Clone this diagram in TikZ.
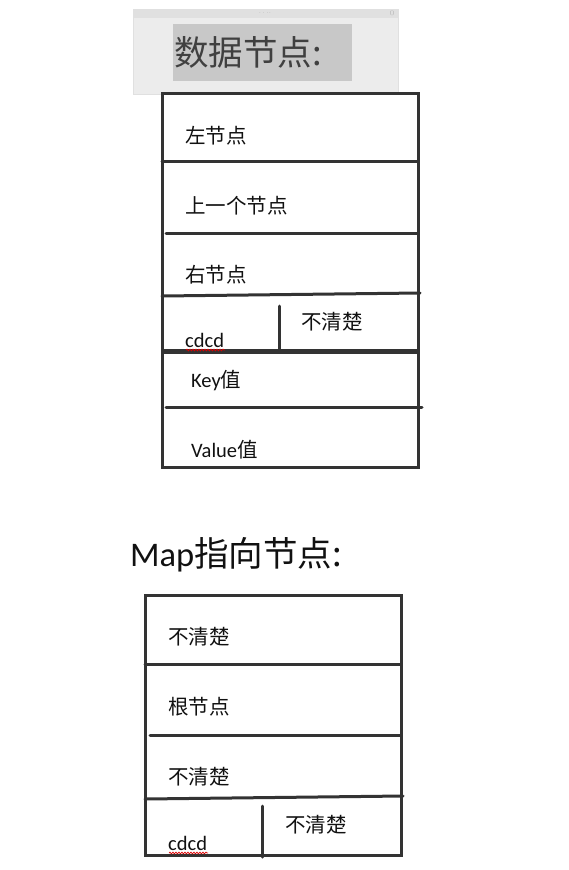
\documentclass[tikz,border=0pt]{standalone}
\usepackage{fontspec}
\setmainfont{Carlito}
\newfontfamily\cjk{Noto Sans CJK SC}
\usetikzlibrary{decorations.pathmorphing}
\definecolor{framec}{HTML}{333333}
\definecolor{panelc}{HTML}{ECECEC}
\definecolor{stripc}{HTML}{E0E0E0}
\definecolor{hlc}{HTML}{C8C8C8}
\definecolor{txtc}{HTML}{111111}
\begin{document}
\begin{tikzpicture}[x=1pt,y=-1pt,
  frame/.style={draw=framec, line width=3pt, line cap=round},
  lbl/.style={anchor=west, inner sep=0pt, text=txtc, font=\fontsize{20.5}{20.5}\selectfont},
  title/.style={anchor=west, inner sep=0pt, text=txtc, font=\fontsize{34.5}{34.5}\selectfont},
  squiggle/.style={draw=red!85!black, line width=0.7pt, decorate, decoration={snake, amplitude=0.9pt, segment length=3pt}}]
\useasboundingbox (0,0) rectangle (568,870);
% ---- top panel
\fill[panelc, draw=black!12, line width=0.6pt] (133,9) rectangle (398,94);
\fill[stripc] (133,9) rectangle (398,18);
\node[inner sep=0pt, text=black!45, font=\fontsize{5}{5}\selectfont] (dots) at (265,13.5) {$\cdot\cdot\cdot\cdot$};
\node[inner sep=0pt, text=black!45, font=\fontsize{5}{5}\selectfont] (arr) at (392,13.5) {$\langle\rangle$};
\fill[hlc] (173,24) rectangle (352,81);
\node[title, text=black!75] (t1) at (174,52) {\cjk 数据节点:};
% ---- box 1
\draw[frame] (162,93) rectangle (418,467);
\draw[frame] (162,161) -- (418,161);
\draw[frame] (166,233) -- (418,233);
\draw[frame] (162,296) -- (420,293);
\draw[frame, line width=4.5pt, line cap=butt] (162,351.5) -- (418,351.5);
\draw[frame] (166,407) -- (422,407);
\draw[frame] (279,306) -- (279,351);
\node[lbl] (n1) at (185,136) {\cjk 左节点};
\node[lbl] (n2) at (185,206) {\cjk 上一个节点};
\node[lbl] (n3) at (185,275) {\cjk 右节点};
\node[lbl] (n4) at (185,340) {cdcd};
\draw[squiggle] (186,350) -- (225,350);
\node[lbl] (n5) at (301,322) {\cjk 不清楚};
\node[lbl] (n6) at (191,381) {Key{\cjk 值}};
\node[lbl] (n7) at (191,450) {Value{\cjk 值}};
% ---- title 2
\node[title] (t2) at (130,555) {Map{\cjk 指向节点:}};
% ---- box 2
\draw[frame] (145,595) rectangle (401,855);
\draw[frame] (145,664) -- (401,664);
\draw[frame] (150,735) -- (401,735);
\draw[frame] (145,799) -- (403,796);
\draw[frame] (262,806) -- (262,857);
\node[lbl] (m1) at (168,637) {\cjk 不清楚};
\node[lbl] (m2) at (168,707) {\cjk 根节点};
\node[lbl] (m3) at (168,777) {\cjk 不清楚};
\node[lbl] (m4) at (168,843) {cdcd};
\draw[squiggle] (169,853) -- (208,853);
\node[lbl] (m5) at (285,825) {\cjk 不清楚};
\end{tikzpicture}
\end{document}
